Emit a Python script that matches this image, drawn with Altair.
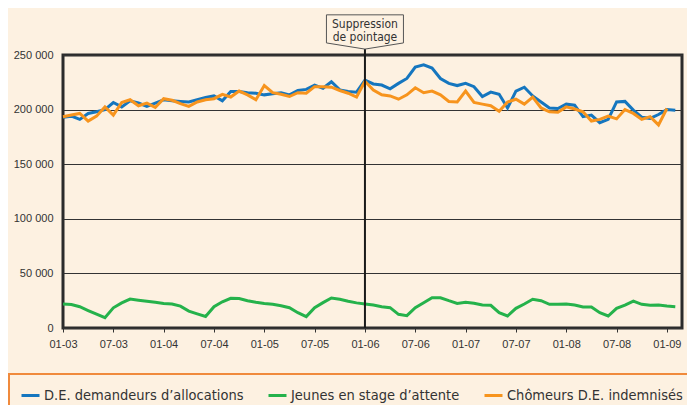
import altair as alt
import pandas as pd

# ---- data (thousands) ----
series_names = ["D.E. demandeurs d’allocations", "Jeunes en stage d’attente", "Chômeurs D.E. indemnisés"]
colors = ["#1576BF", "#25B24B", "#F7941D"]

blue = [193, 194, 191, 196.5, 198, 200, 206.5, 202.5, 208, 206, 203, 206, 209, 208, 207.5,
        207, 209, 211, 212.5, 208, 216.5, 216.5, 215.5, 215, 213.5, 214.5, 215.5, 213.5, 217.5, 218.5,
        222.5, 219.5, 225.5, 218, 216.5, 216, 227, 223.5, 222.5, 219, 224, 228.5, 239, 241,
        238, 228.5, 224, 222, 224, 221, 212, 216, 214, 201.5, 217, 220.5, 212.5, 207, 201.5,
        201, 205, 204, 193.5, 195, 188, 191, 207, 207.5, 199.5, 193, 192, 195.5, 200, 199.5]

green = [22, 21.5, 19.5, 16, 12.7, 9.5, 18.5, 23, 26.5, 25.5, 24.5, 23.5, 22.5, 22, 20,
         15.5, 13, 10.5, 19.5, 24, 27.2, 27, 25, 23.5, 22.5, 21.7, 20.4, 18.6, 14, 10.4,
         18.6, 23.2, 27.5, 26.3, 24.5, 23, 22, 21, 19.5, 18.6, 12.5, 11.3, 18.6, 23.2,
         27.7, 27.7, 25, 22.5, 23.5, 22.6, 21, 20.8, 14, 11, 18, 22, 26.3, 25, 21.7,
         21.7, 22, 21, 19.2, 19.2, 14, 11, 18, 21, 24.7, 21.7, 20.8, 21, 20.1, 19.5]

orange = [193.5, 195, 196.5, 189.5, 194, 202.5, 195, 206.5, 209, 203.5, 206, 202, 210, 208.5, 205.5,
          203, 207, 209, 210, 214, 211.5, 217, 213.5, 209, 222, 215.5, 214, 212, 215.5, 215,
          221, 221, 220.5, 217.5, 215, 211.5, 226, 218, 213.5, 212.5, 209.5, 213.5, 220, 215.5,
          217, 213.5, 207.5, 207, 217, 206.5, 205, 203.5, 198.5, 207, 209.5, 205, 211.5, 201.5, 198,
          197.5, 202.5, 200.5, 198, 189.5, 191, 194, 191.5, 200, 196.5, 191, 193.5, 186, 201]

tick_months = list(range(0, 73, 6))
tick_labels = ["01-03", "07-03", "01-04", "07-04", "01-05", "07-05", "01-06",
               "07-06", "01-07", "07-07", "01-08", "07-08", "01-09"]
y_ticks = [0, 50000, 100000, 150000, 200000, 250000]

annot_month = 36
annot_text = "Suppression\nde pointage"

rows = []
for name, vals in zip(series_names, [blue, green, orange]):
    for i, v in enumerate(vals):
        rows.append({"m": i, "v": v * 1000, "s": name})
df = pd.DataFrame(rows)

BG = "#FDF1E1"
COND = "DejaVu Sans Condensed"
SANS = "Liberation Sans"

label_arr = "[" + ",".join("'%s'" % t for t in tick_labels) + "]"

xscale = alt.Scale(domain=[0, 73.8], nice=False, zero=False)

lines = alt.Chart(df).mark_line().encode(
    x=alt.X("m:Q", scale=xscale,
            axis=alt.Axis(values=tick_months, labelExpr=label_arr + "[round(datum.value/6)]",
                          title=None, grid=False, ticks=True, tickSize=4, tickColor="#333",
                          labelPadding=6, domain=False, labelFont=SANS, labelFontSize=11,
                          labelColor="#333", labelFlush=False, labelOverlap=False)),
    y=alt.Y("v:Q", scale=alt.Scale(domain=[0, 250000], nice=False),
            axis=alt.Axis(values=y_ticks,
                          labelExpr="replace(format(datum.value, ','), ',', ' ')",
                          title=None, grid=True, gridColor="#333", gridWidth=1, ticks=False,
                          domain=False, labelPadding=10, labelFont=SANS, labelFontSize=11,
                          labelColor="#333")),
    color=alt.Color("s:N", scale=alt.Scale(domain=series_names, range=colors),
                    legend=alt.Legend(title=None, orient="none", legendX=-54, legendY=319,
                                      direction="horizontal", symbolType="stroke",
                                      symbolStrokeWidth=4, symbolSize=324,
                                      labelFont=COND, labelFontSize=14.5, labelColor="#333",
                                      labelLimit=400,
                                      columnPadding=18, labelOffset=3, padding=11,
                                      strokeColor="#F08A3C", fillColor=BG)),
    strokeWidth=alt.StrokeWidth("s:N", scale=alt.Scale(domain=series_names, range=[3, 3, 4.5]),
                                legend=None),
)

annot_df = pd.DataFrame({"m": [annot_month], "t": [annot_text]})

vrule = alt.Chart(annot_df).mark_rule(color="#1a1a1a", strokeWidth=2).encode(
    x=alt.X("m:Q", scale=xscale), y=alt.value(-6), y2=alt.value(273))

callout = alt.Chart(annot_df).mark_point(
    shape="M-1,-0.42 L1,-0.42 L1,0.31 L0,0.47 L-1,0.31 Z", size=5929, filled=True,
    fill=BG, stroke="#555", strokeWidth=1, opacity=1).encode(
    x=alt.X("m:Q", scale=xscale), y=alt.value(-24))

ctext = alt.Chart(annot_df).mark_text(
    lineBreak="\n", font=COND, fontSize=12, lineHeight=13, color="#333",
    baseline="middle", align="center").encode(
    x=alt.X("m:Q", scale=xscale), y=alt.value(-31), text="t:N")

topline = alt.Chart(annot_df).mark_rule(color="#1B2A6B", strokeWidth=2).encode(
    x=alt.value(-46), x2=alt.value(614), y=alt.value(-53))

chart = alt.layer(lines, vrule, callout, ctext, topline).properties(
    width=619, height=273,
    padding={"left": 55, "top": 47, "right": 5, "bottom": 77},
    autosize=alt.AutoSizeParams(type="none"),
    background=BG,
).configure_view(stroke="#2b2b2b", strokeWidth=3, fill=BG).configure_legend(strokeWidth=2)

chart.save("out.html", embed_options={"renderer": "svg", "actions": False})
